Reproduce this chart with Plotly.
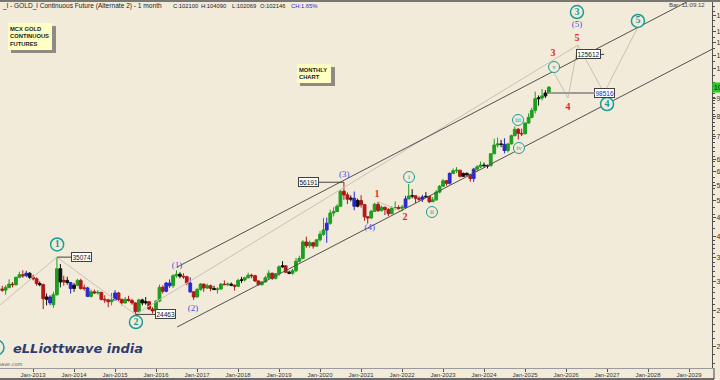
import math
import plotly.graph_objects as go
import pandas as pd

BG = "#F3EBDA"

# ---------------- monthly OHLC (MCX gold continuous, Apr-2012 .. Aug-2025) -------------
months = pd.date_range("2012-04-01", "2025-08-01", freq="MS")

opens = [
    28700, 28500, 29000, 29600, 29500, 30900, 31400, 31200, 31700,                     # 2012
    30900, 30600, 29700, 29500, 26900, 27300, 26000, 27700, 32600, 30000, 30300, 29900,  # 2013
    28800, 29400, 30300, 28800, 28900, 27400, 28200, 28000, 28100, 26900, 26800, 26500,  # 2014
    26800, 28000, 26900, 26300, 26900, 26700, 26300, 24900, 26800, 26300, 26500, 25300,  # 2015
    25000, 26600, 29000, 28300, 29800, 29300, 31200, 31500, 31100, 31000, 29800, 28200,  # 2016
    27300, 28600, 29600, 28900, 29300, 28800, 28600, 28700, 29600, 29500, 29600, 29400,  # 2017
    29200, 30300, 30400, 30800, 31300, 31200, 30200, 29500, 30000, 30800, 31700, 30700,  # 2018
    31600, 33000, 33200, 31900, 31700, 32200, 34200, 34800, 38600, 37700, 38400, 37600,  # 2019
    39100, 40500, 41600, 43400, 46300, 46700, 48300, 53100, 51900, 50500, 50800, 48300,  # 2020
    50100, 48800, 45200, 44900, 46800, 48900, 47000, 48000, 47300, 46100, 47800, 47900,  # 2021
    47700, 48000, 50600, 51500, 51600, 50800, 50500, 51200, 51400, 49700, 50300, 52800,  # 2022
    54800, 56700, 55800, 59400, 60400, 60600, 58300, 59400, 58900, 57500, 61000, 61900,  # 2023
    62600, 62400, 62300, 67200, 71000, 71500, 71300, 68600, 71500, 75300, 78400, 76400,  # 2024
    76200, 81500, 84500, 88300, 95000, 95500, 96700, 98500,                              # 2025
]
highs = [
    29300, 29400, 30500, 30000, 31000, 32000, 32300, 32200, 31900,
    31400, 30900, 30100, 29700, 27900, 27600, 28200, 35074, 33600, 31200, 31000, 30000,
    29800, 30600, 30600, 29500, 29100, 28600, 28600, 28500, 28200, 27600, 27000, 28000,
    28500, 28200, 27000, 27300, 27500, 27000, 26400, 27000, 27000, 27300, 26600, 25600,
    26800, 29500, 29400, 30000, 30500, 31500, 32300, 31900, 31700, 31200, 30900, 28300,
    28900, 29800, 29700, 29700, 29500, 29300, 29000, 29800, 30300, 29900, 29900, 29500,
    30600, 31000, 31000, 31800, 31600, 31400, 30300, 30200, 31200, 32300, 31800, 31700,
    33300, 34200, 33300, 32200, 32600, 34900, 35400, 39000, 39900, 38900, 38600, 39200,
    41300, 44900, 45000, 47300, 48000, 48900, 53400, 56191, 52700, 51700, 53000, 50700,
    51800, 49000, 45400, 47200, 49400, 49700, 48500, 48200, 47700, 48300, 49800, 48600,
    48700, 51600, 55558, 53800, 51700, 51400, 51900, 52800, 51500, 51200, 53500, 55200,
    57400, 57000, 59800, 61300, 61800, 60700, 59700, 59800, 59300, 61500, 62600, 64000,
    63600, 62800, 67500, 73900, 74400, 73300, 74100, 71900, 75800, 79800, 79100, 78700,
    82000, 86600, 89800, 99358, 97000, 101000, 100300, 102900,
]
lows = [
    28200, 27700, 28800, 29000, 29300, 30700, 30800, 30900, 30600,
    30300, 29300, 29200, 25300, 25900, 25900, 25500, 27500, 29000, 29300, 29500, 27900,
    28200, 29200, 28600, 28400, 27300, 27200, 27800, 27700, 26700, 26300, 25600, 25900,
    26700, 26600, 25900, 26200, 26500, 26000, 24463, 24700, 25900, 26000, 25200, 24600,
    24800, 26400, 27900, 28100, 28900, 28900, 30800, 30700, 30600, 29400, 28000, 26800,
    27200, 28400, 28200, 28700, 28300, 28500, 27900, 28600, 29400, 29200, 29200, 28400,
    29100, 29800, 30100, 30700, 30700, 30000, 29300, 29300, 29900, 30500, 30400, 30500,
    31200, 32800, 31800, 31500, 31400, 31900, 33900, 34600, 37200, 37200, 37000, 37400,
    38700, 40100, 38400, 43000, 45300, 46600, 48200, 50300, 49000, 49800, 47100, 48000,
    47900, 44100, 43300, 44500, 46600, 46600, 46700, 45700, 45400, 46000, 47300, 47200,
    46800, 47600, 50500, 50800, 49300, 50000, 49600, 50900, 49300, 49600, 50000, 52400,
    54700, 55000, 55400, 59100, 59500, 57900, 58200, 58400, 56400, 56300, 60100, 61400,
    61700, 61300, 62200, 67100, 69900, 70100, 67400, 67800, 71300, 75100, 73500, 75100,
    76000, 81400, 84000, 86600, 91000, 94000, 95500, 98000,
]
closes = [
    28500, 29000, 29600, 29500, 30900, 31400, 31200, 31700, 30900,
    30600, 29700, 29500, 27000, 27300, 26300, 27700, 32600, 30000, 30300, 29900, 28800,
    29400, 30300, 28800, 28900, 27400, 28200, 28000, 28100, 26900, 26800, 26500, 26800,
    28000, 26900, 26300, 26900, 26700, 26300, 24900, 26800, 26300, 26500, 25300, 25000,
    26600, 29000, 28300, 29800, 29300, 31200, 31500, 31100, 31000, 29800, 28200, 27300,
    28600, 29600, 28900, 29300, 28800, 28600, 28700, 29600, 29500, 29600, 29400, 29200,
    30300, 30400, 30800, 31300, 31200, 30200, 29500, 30000, 30800, 31700, 30700, 31600,
    33000, 33200, 31900, 31700, 32200, 34200, 34800, 38600, 37700, 38400, 37600, 39100,
    40500, 41600, 43400, 46300, 46700, 48300, 53100, 51900, 50500, 50800, 48300, 50100,
    48800, 45200, 44900, 46800, 48900, 47000, 48000, 47300, 46100, 47800, 47900, 47700,
    48000, 50600, 51500, 51600, 50800, 50500, 51200, 51400, 49700, 50300, 52800, 54800,
    56700, 55800, 59400, 60400, 60600, 58300, 59400, 58900, 57500, 61000, 61900, 62600,
    62400, 62300, 67200, 71000, 71500, 71300, 68600, 71500, 75300, 78400, 76400, 76200,
    81500, 84500, 88300, 95000, 95500, 96700, 98500, 102100,
]
# bar colour code per month (g green, r red, b blue, k black), one string per year
color_rows = [
    "rggrggrbk",      # 2012 Apr-Dec
    "rrkrkbggkrkb",   # 2013
    "kgrrbgrgrrrg",   # 2014
    "brrgrrrgkkrr",   # 2015
    "ggrbbggkrrbr",   # 2016
    "ggrgrkggrgkr",   # 2017
    "gkggrrrgggrg",   # 2018
    "gkrkggggrgrg",   # 2019
    "ggbggggrrkbk",   # 2020
    "rrrggrgrrggr",   # 2021
    "gbgkrrbkrggg",   # 2022
    "grbggrkkrbgg",   # 2023
    "kkgggkbgggrr",   # 2024
    "ggggkgkg",       # 2025 Jan-Aug
]
bar_colors = list("".join(color_rows))
assert len(bar_colors) == len(months) == len(opens) == len(highs) == len(lows) == len(closes)

# ---------------- analysis overlays --------------------------------------------------
channel_upper_dates = ["2016-07-07", "2029-07-24"]
channel_upper_prices = [32960, 189700]
channel_lower_dates = ["2016-07-07", "2029-07-24"]
channel_lower_prices = [22600, 129700]

# primary-degree wave path: start, 1, 2, 3, 4, 5
primary_dates = ["2011-12-01", "2013-08-01", "2015-07-01", "2026-04-17", "2026-12-05", "2027-10-03"]
primary_prices = [24430, 35074, 24463, 133200, 98516, 149200]

# minor-degree projection: v, 4, 5
proj_dates = ["2025-09-12", "2026-01-18", "2026-04-17"]
proj_prices = [112400, 95460, 133200]

# minor 1 -> 2 connector
minor12_dates = ["2021-06-01", "2022-01-01"]
minor12_prices = [49700, 46800]

circled_text = ["1", "2", "3", "4", "5"]
circled_dates = ["2013-08-03", "2015-07-06", "2026-04-08", "2027-01-01", "2027-10-03"]
circled_prices = [37980, 23320, 163950, 91920, 154970]

roman_text = ["i", "ii", "iii", "iv", "v"]
roman_dates = ["2022-03-04", "2022-09-24", "2024-10-30", "2024-11-07", "2025-09-16"]
roman_prices = [58070, 46590, 83120, 69700, 116000]

paren_text = ["(1)", "(2)", "(3)", "(4)", "(5)"]
paren_dates = ["2016-07-06", "2016-11-25", "2020-08-03", "2021-03-20", "2026-04-08"]
paren_prices = [33280, 25380, 58800, 42130, 151100]

red_text = ["1", "2", "3", "4", "5"]
red_dates = ["2021-05-23", "2022-01-27", "2025-09-07", "2026-01-18", "2026-04-08"]
red_prices = [52180, 45150, 126640, 90200, 139200]

box_text = ["35074", "24463", "56191", "125612", "98516"]
box_dates = ["2013-08-01", "2015-07-01", "2020-08-01", "2026-12-06", "2025-08-01"]
box_prices = [35074, 24463, 56191, 125612, 98516]

ytick_vals = [20000, 25000, 30000, 35000, 40000, 45000, 50000, 55000, 60000, 65000,
              75000, 85000, 95000, 115000, 125000, 135000, 145000, 160000]
x_range = ["2012-03-12", "2029-07-24"]

# ---------------- figure --------------------------------------------------------------
fig = go.Figure()
LIGHT = "#C9C1B2"
DARK = "#505050"
for dx, pyv in [(primary_dates, primary_prices), (proj_dates, proj_prices),
                (minor12_dates, minor12_prices)]:
    fig.add_trace(go.Scatter(x=dx, y=pyv, mode="lines", line=dict(color=LIGHT, width=1),
                             showlegend=False, hoverinfo="skip"))

palette = {"g": "#1E9E1E", "r": "#B01818", "b": "#2828D0", "k": "#101010"}
for code, col in palette.items():
    idx = [i for i, c in enumerate(bar_colors) if c == code]
    fig.add_trace(go.Candlestick(
        x=[months[i] for i in idx],
        open=[opens[i] for i in idx], high=[highs[i] for i in idx],
        low=[lows[i] for i in idx], close=[closes[i] for i in idx],
        increasing=dict(line=dict(color=col, width=1), fillcolor=col),
        decreasing=dict(line=dict(color=col, width=1), fillcolor=col),
        whiskerwidth=0, showlegend=False, hoverinfo="skip"))

for dx, pyv in [(channel_upper_dates, channel_upper_prices), (channel_lower_dates, channel_lower_prices)]:
    fig.add_trace(go.Scatter(x=dx, y=pyv, mode="lines", line=dict(color=DARK, width=1),
                             showlegend=False, hoverinfo="skip"))

TEAL = "#1C9C94"
fig.add_trace(go.Scatter(
    x=circled_dates, y=circled_prices, mode="markers+text", text=circled_text,
    textposition="middle center", cliponaxis=False,
    textfont=dict(family="Liberation Serif", size=10, color=TEAL, weight="bold"),
    marker=dict(symbol="circle", size=13, color=BG, line=dict(color=TEAL, width=1.5)),
    showlegend=False, hoverinfo="skip"))
fig.add_trace(go.Scatter(
    x=roman_dates, y=roman_prices, mode="markers+text", text=roman_text,
    textposition="middle center",
    textfont=dict(family="Liberation Serif", size=7, color=TEAL),
    marker=dict(symbol="circle", size=11, color=BG, line=dict(color=TEAL, width=1)),
    showlegend=False, hoverinfo="skip"))
fig.add_trace(go.Scatter(
    x=paren_dates, y=paren_prices, mode="text", text=paren_text, textposition="middle center",
    textfont=dict(family="Liberation Serif", size=9, color="#4B4BE8"),
    showlegend=False, hoverinfo="skip"))
fig.add_trace(go.Scatter(
    x=red_dates, y=red_prices, mode="text", text=red_text, textposition="middle center",
    textfont=dict(family="Liberation Serif", size=10, color="#E8281E", weight="bold"),
    showlegend=False, hoverinfo="skip"))

ann = []
box_offsets = [25, 30, -35, -16, 56]
for t, d, p, off in zip(box_text, box_dates, box_prices, box_offsets):
    blue = t == "98516"
    ann.append(dict(
        x=d, y=math.log10(p), xref="x", yref="y", text=t, showarrow=True,
        ax=off, ay=0, arrowhead=0, arrowwidth=2 if blue else 1,
        arrowcolor="#A09A90" if blue else "#404040",
        font=dict(family="Liberation Sans", size=6.5, color="#2020C8" if blue else "#111"),
        bgcolor="white", bordercolor="#404040", borderwidth=1, borderpad=0.5))

W, H0, H1 = 712.0, 2.0, 368.0
def px(x):
    return x / W
def py(y):
    return (H1 - y) / (H1 - H0)

ann.append(dict(x=px(0), y=py(6), xref="paper", yref="paper", xanchor="left", yanchor="middle",
                text="_l - GOLD_l Continuous Future (Alternate 2) - 1 month", showarrow=False,
                font=dict(family="Liberation Sans", size=6.6, color="#222")))
for t, x0, c in [("C:102100", 171, "#222"), ("H:104090", 199, "#222"), ("L:102069", 230, "#222"),
                 ("O:102146", 258, "#222"), ("CH:1.65%", 289, "#2828E0")]:
    ann.append(dict(x=px(x0), y=py(6), xref="paper", yref="paper", xanchor="left", yanchor="middle",
                    text=t, showarrow=False, font=dict(family="Liberation Sans", size=5.8, color=c)))
ann.append(dict(x=px(707), y=py(5.5), xref="paper", yref="paper", xanchor="right", yanchor="middle",
                text="Bar: 11:09:12", showarrow=False,
                font=dict(family="Liberation Sans", size=6, color="#444")))

for txt, x0, y0, w, h in [("MCX GOLD<br>CONTINUOUS<br>FUTURES", 8, 23, 45, 27),
                          ("MONTHLY<br>CHART", 297, 64, 35, 19)]:
    ann.append(dict(x=px(x0 + 3), y=py(y0 + 3), xref="paper", yref="paper", xanchor="left",
                    yanchor="top", text=" ", showarrow=False, width=w, height=h,
                    bgcolor="#8E8A84", borderpad=0, borderwidth=0))
    ann.append(dict(x=px(x0), y=py(y0), xref="paper", yref="paper", xanchor="left", yanchor="top",
                    text=txt, showarrow=False, width=w - 5, height=h - 4, align="left",
                    valign="middle", bgcolor="#FFFFC4", borderpad=2, borderwidth=0,
                    font=dict(family="Liberation Sans", size=5.8, color="#222", weight="bold")))

ann.append(dict(x=px(11), y=py(348), xref="paper", yref="paper", xanchor="left", yanchor="middle",
                text="eLLiottwave india", showarrow=False,
                font=dict(family="DejaVu Sans", size=13, color="#2E3C70", weight="bold", style="italic")))
ann.append(dict(x=px(25), y=py(364), xref="paper", yref="paper", xanchor="right", yanchor="middle",
                text="wave.com", showarrow=False,
                font=dict(family="DejaVu Sans", size=5, color="#555")))
ann.append(dict(x=1, y=math.log10(closes[-1]), xref="paper", yref="y", xanchor="left",
                yanchor="middle", text="102100", showarrow=False, xshift=0,
                font=dict(family="Liberation Sans", size=7, color="#111"),
                bgcolor="#22D022", borderpad=1))

shapes = [
    dict(type="line", xref="paper", yref="paper", x0=0, x1=1.02, y0=py(1), y1=py(1),
         line=dict(color="#505050", width=1.5)),
    dict(type="line", xref="paper", yref="paper", x0=0, x1=px(714), y0=py(379), y1=py(379),
         line=dict(color="#404040", width=1.5)),
    dict(type="line", xref="paper", yref="paper", x0=px(714), x1=px(714), y0=py(379), y1=py(368),
         line=dict(color="#404040", width=1)),
    dict(type="circle", xref="paper", yref="paper", x0=px(-11), x1=px(4), y0=py(355), y1=py(340),
         line=dict(color=TEAL, width=1.5)),
]

minor_vals = ([v for v in range(18000, 40000, 1000)] + [v for v in range(40000, 100000, 2000)]
              + [v for v in range(100000, 185000, 5000)])

fig.update_layout(
    width=720, height=380,
    margin=dict(l=0, r=8, t=2, b=12),
    paper_bgcolor=BG, plot_bgcolor=BG,
    showlegend=False, boxgap=0.12, boxgroupgap=0,
    annotations=ann, shapes=shapes,
    xaxis=dict(type="date", range=x_range, rangeslider=dict(visible=False),
               showgrid=False, zeroline=False, showline=True, linecolor="#9A9A9A", linewidth=1,
               ticks="outside", ticklen=3, tickcolor="#555",
               tick0="2013-01-01", dtick="M12", tickformat="%b-%Y", ticklabelstandoff=-2,
               tickfont=dict(family="Liberation Sans", size=6, color="#333"), automargin=False),
    yaxis=dict(type="log", range=[4.2421, 5.2421], side="right",
               showgrid=False, zeroline=False, showline=True, linecolor="#505050", linewidth=1,
               ticks="outside", ticklen=3, tickcolor="#505050", ticklabelstandoff=-1,
               tickvals=ytick_vals, ticktext=[str(v) for v in ytick_vals],
               tickfont=dict(family="Liberation Sans", size=7, color="#333"),
               minor=dict(tickvals=minor_vals, ticks="outside", ticklen=2, tickcolor="#505050"),
               automargin=False),
)

fig.write_html("out.html", config={"displayModeBar": False},
               post_script="document.body.style.margin='0';")
